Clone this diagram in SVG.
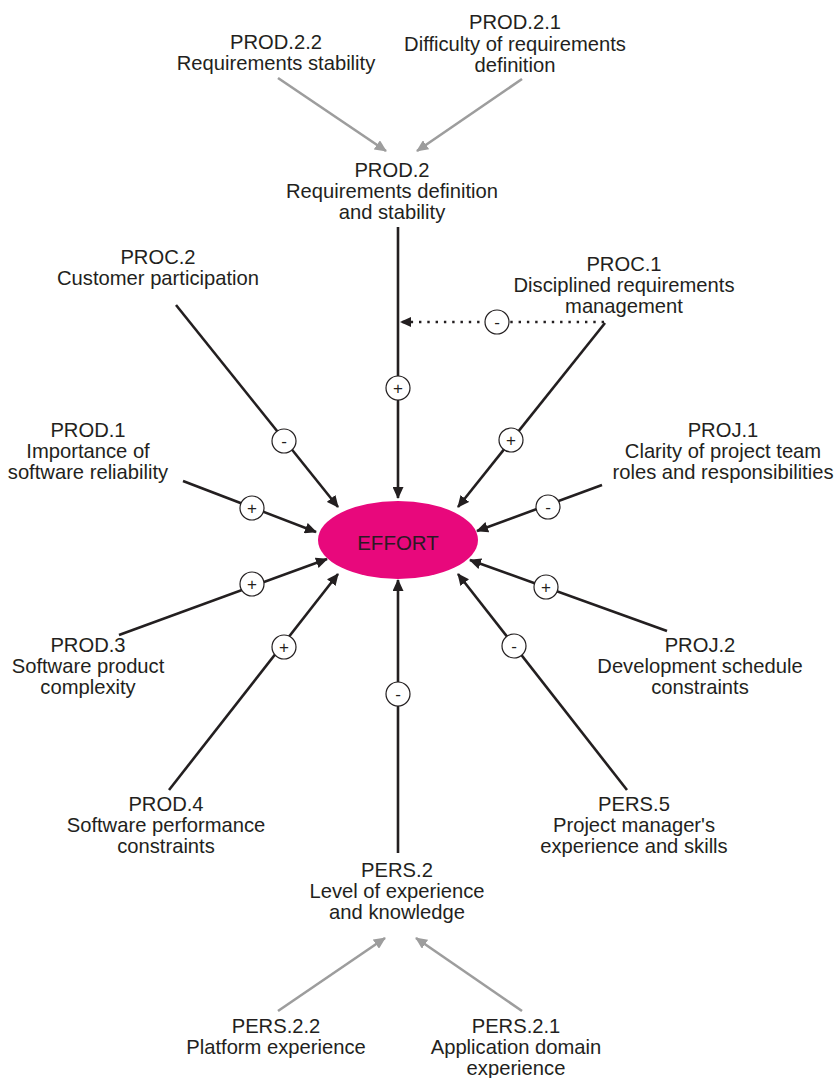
<svg xmlns="http://www.w3.org/2000/svg" width="835" height="1078" viewBox="0 0 835 1078">
  <defs>
    <style>
      .lbl { font-family: "Liberation Sans", Arial, sans-serif; font-size: 20.2px; fill: #231f20; text-anchor: middle; }
      .sign { font-family: "Liberation Sans", Arial, sans-serif; font-size: 17px; fill: #231f20; text-anchor: middle; }
      .main { stroke: #231f20; stroke-width: 2.6; fill: none; }
      .sub { stroke: #9d9d9d; stroke-width: 2.6; fill: none; }
      .dots { stroke: #231f20; stroke-width: 2.6; fill: none; stroke-dasharray: 2.4 5.9; }
      .badge { fill: #ffffff; stroke: #231f20; stroke-width: 1.2; }
    </style>
    <marker id="headMain" markerUnits="userSpaceOnUse" markerWidth="13" markerHeight="11" refX="11" refY="5.5" orient="auto">
      <path d="M0,0 L12,5.5 L0,11 z" fill="#231f20"/>
    </marker>
    <marker id="headSub" markerUnits="userSpaceOnUse" markerWidth="13" markerHeight="11" refX="11" refY="5.5" orient="auto">
      <path d="M0,0 L12,5.5 L0,11 z" fill="#9d9d9d"/>
    </marker>
    <marker id="headDots" markerUnits="userSpaceOnUse" markerWidth="11" markerHeight="11" refX="10" refY="5.5" orient="auto">
      <path d="M0,0.5 L11,5.5 L0,10.5 z" fill="#231f20"/>
    </marker>
  </defs>

  <rect width="835" height="1078" fill="#ffffff"/>

  <!-- connectors -->
  <g id="connectors">
    <!-- sub-factors into PROD.2 and PERS.2 -->
    <line class="sub" x1="278" y1="78" x2="386" y2="151" marker-end="url(#headSub)"/>
    <line class="sub" x1="522" y1="79" x2="417" y2="151" marker-end="url(#headSub)"/>
    <line class="sub" x1="278" y1="1011" x2="385" y2="938" marker-end="url(#headSub)"/>
    <line class="sub" x1="522" y1="1011" x2="416" y2="938" marker-end="url(#headSub)"/>

    <!-- factors into EFFORT -->
    <line class="main" x1="398" y1="227" x2="398" y2="498" marker-end="url(#headMain)"/>
    <line class="dots" x1="604" y1="322" x2="401" y2="322" marker-end="url(#headDots)"/>
    <line class="main" x1="605" y1="323" x2="458" y2="507" marker-end="url(#headMain)"/>
    <line class="main" x1="176" y1="305" x2="338" y2="507" marker-end="url(#headMain)"/>
    <line class="main" x1="183" y1="481" x2="316" y2="532" marker-end="url(#headMain)"/>
    <line class="main" x1="602" y1="485" x2="477" y2="531" marker-end="url(#headMain)"/>
    <line class="main" x1="119" y1="635" x2="327" y2="559" marker-end="url(#headMain)"/>
    <line class="main" x1="667" y1="631" x2="470" y2="560" marker-end="url(#headMain)"/>
    <line class="main" x1="169" y1="790" x2="338" y2="574" marker-end="url(#headMain)"/>
    <line class="main" x1="627" y1="790" x2="458" y2="574" marker-end="url(#headMain)"/>
    <line class="main" x1="398" y1="853" x2="398" y2="580" marker-end="url(#headMain)"/>

    <!-- influence signs -->
    <g id="signs">
      <circle class="badge" cx="398" cy="388" r="12"/><text class="sign" x="398" y="394">+</text>
      <circle class="badge" cx="497" cy="322" r="12"/><text class="sign" x="497" y="328">-</text>
      <circle class="badge" cx="511" cy="440" r="12"/><text class="sign" x="511" y="446">+</text>
      <circle class="badge" cx="284" cy="441" r="12"/><text class="sign" x="284" y="447">-</text>
      <circle class="badge" cx="252" cy="508" r="12"/><text class="sign" x="252" y="514">+</text>
      <circle class="badge" cx="548" cy="507" r="12"/><text class="sign" x="548" y="513">-</text>
      <circle class="badge" cx="252" cy="584" r="12"/><text class="sign" x="252" y="590">+</text>
      <circle class="badge" cx="546" cy="587" r="12"/><text class="sign" x="546" y="593">+</text>
      <circle class="badge" cx="284" cy="647" r="12"/><text class="sign" x="284" y="653">+</text>
      <circle class="badge" cx="514" cy="646" r="12"/><text class="sign" x="514" y="652">-</text>
      <circle class="badge" cx="398" cy="694" r="12"/><text class="sign" x="398" y="700">-</text>
    </g>
  </g>

  <!-- central node -->
  <g id="effort">
    <ellipse cx="398" cy="540" rx="80" ry="39" fill="#e8087c"/>
    <text x="398" y="550" style="font-family: 'Liberation Sans', Arial, sans-serif; font-size: 20.5px; fill: #2b1a24; text-anchor: middle;">EFFORT</text>
  </g>

  <!-- factor nodes -->
  <g id="prod-2-2">
    <text class="lbl"><tspan x="276" y="49">PROD.2.2</tspan><tspan x="276" y="70">Requirements stability</tspan></text>
  </g>
  <g id="prod-2-1">
    <text class="lbl"><tspan x="515" y="29">PROD.2.1</tspan><tspan x="515" y="51">Difficulty of requirements</tspan><tspan x="515" y="72">definition</tspan></text>
  </g>
  <g id="prod-2">
    <text class="lbl"><tspan x="392" y="177">PROD.2</tspan><tspan x="392" y="198">Requirements definition</tspan><tspan x="392" y="219">and stability</tspan></text>
  </g>
  <g id="proc-2">
    <text class="lbl"><tspan x="158" y="264">PROC.2</tspan><tspan x="158" y="285">Customer participation</tspan></text>
  </g>
  <g id="proc-1">
    <text class="lbl"><tspan x="624" y="271">PROC.1</tspan><tspan x="624" y="292">Disciplined requirements</tspan><tspan x="624" y="313">management</tspan></text>
  </g>
  <g id="prod-1">
    <text class="lbl"><tspan x="88" y="437">PROD.1</tspan><tspan x="88" y="458">Importance of</tspan><tspan x="88" y="479">software reliability</tspan></text>
  </g>
  <g id="proj-1">
    <text class="lbl"><tspan x="723" y="437">PROJ.1</tspan><tspan x="723" y="458">Clarity of project team</tspan><tspan x="723" y="479">roles and responsibilities</tspan></text>
  </g>
  <g id="prod-3">
    <text class="lbl"><tspan x="88" y="652">PROD.3</tspan><tspan x="88" y="673">Software product</tspan><tspan x="88" y="694">complexity</tspan></text>
  </g>
  <g id="proj-2">
    <text class="lbl"><tspan x="700" y="652">PROJ.2</tspan><tspan x="700" y="673">Development schedule</tspan><tspan x="700" y="694">constraints</tspan></text>
  </g>
  <g id="prod-4">
    <text class="lbl"><tspan x="166" y="811">PROD.4</tspan><tspan x="166" y="832">Software performance</tspan><tspan x="166" y="853">constraints</tspan></text>
  </g>
  <g id="pers-5">
    <text class="lbl"><tspan x="634" y="811">PERS.5</tspan><tspan x="634" y="832">Project manager's</tspan><tspan x="634" y="853">experience and skills</tspan></text>
  </g>
  <g id="pers-2">
    <text class="lbl"><tspan x="397" y="877">PERS.2</tspan><tspan x="397" y="898">Level of experience</tspan><tspan x="397" y="919">and knowledge</tspan></text>
  </g>
  <g id="pers-2-2">
    <text class="lbl"><tspan x="276" y="1033">PERS.2.2</tspan><tspan x="276" y="1054">Platform experience</tspan></text>
  </g>
  <g id="pers-2-1">
    <text class="lbl"><tspan x="516" y="1033">PERS.2.1</tspan><tspan x="516" y="1054">Application domain</tspan><tspan x="516" y="1075">experience</tspan></text>
  </g>
</svg>
